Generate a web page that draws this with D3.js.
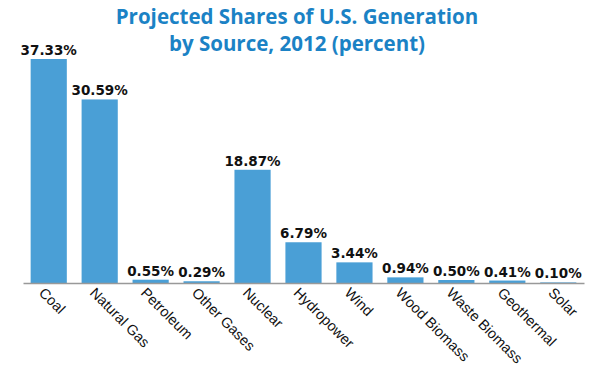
<!DOCTYPE html>
<head>
<meta charset="utf-8">
<style>
body { margin: 0; background: #fff; }
.title { font-family: "Open Sans", sans-serif; font-weight: 700; font-size: 20.5px; fill: #1b82c5; }
.val { font-family: "DejaVu Sans", sans-serif; font-weight: 700; font-size: 13.5px; fill: #111; }
.axis text { font-family: "Liberation Sans", Arial, sans-serif; font-size: 14.5px; fill: #111; }
</style>
</head>
<body>
<script src="https://d3js.org/d3.v7.min.js"></script>
<script>
var sources = ["Coal", "Natural Gas", "Petroleum", "Other Gases", "Nuclear", "Hydropower",
               "Wind", "Wood Biomass", "Waste Biomass", "Geothermal", "Solar"];
var shares = [37.33, 30.59, 0.55, 0.29, 18.87, 6.79, 3.44, 0.94, 0.50, 0.41, 0.10];
var titleLines = ["Projected Shares of U.S. Generation", "by Source, 2012 (percent)"];

var width = 600, height = 375;
var plotLeft = 23, plotRight = 584, baseY = 283, topY = 59;

var svg = d3.select("body").append("svg")
    .attr("width", width)
    .attr("height", height);

svg.selectAll(".title").data(titleLines).enter().append("text")
    .attr("class", "title")
    .attr("x", 297)
    .attr("y", function(d, i) { return 24 + i * 27; })
    .attr("text-anchor", "middle")
    .text(function(d) { return d; });

var x = d3.scaleBand().domain(sources).range([plotLeft, plotRight]).paddingInner(0.29).paddingOuter(0.15);
var y = d3.scaleLinear().domain([0, 37.33]).range([baseY, topY]);

svg.selectAll(".bar").data(shares).enter().append("rect")
    .attr("class", "bar")
    .attr("x", function(d, i) { return x(sources[i]); })
    .attr("width", x.bandwidth())
    .attr("y", function(d) { return y(d); })
    .attr("height", function(d) { return baseY - y(d); })
    .attr("fill", "#4a9fd6");

svg.selectAll(".val").data(shares).enter().append("text")
    .attr("class", "val")
    .attr("x", function(d, i) { return x(sources[i]) + x.bandwidth() / 2; })
    .attr("y", function(d) { return y(d) - 4; })
    .attr("text-anchor", "middle")
    .text(function(d) { return d.toFixed(2) + "%"; });

var axis = svg.append("g").attr("class", "axis")
    .attr("transform", "translate(0," + baseY + ")")
    .call(d3.axisBottom(x).tickSize(0).tickSizeOuter(0));
axis.select(".domain").attr("stroke", "#999").attr("stroke-width", 1.5);
axis.selectAll(".tick text")
    .attr("text-anchor", "start")
    .attr("transform", "rotate(45)")
    .attr("x", 0)
    .attr("y", 10)
    .attr("dy", "0.35em");
</script>
</body>
</html>
